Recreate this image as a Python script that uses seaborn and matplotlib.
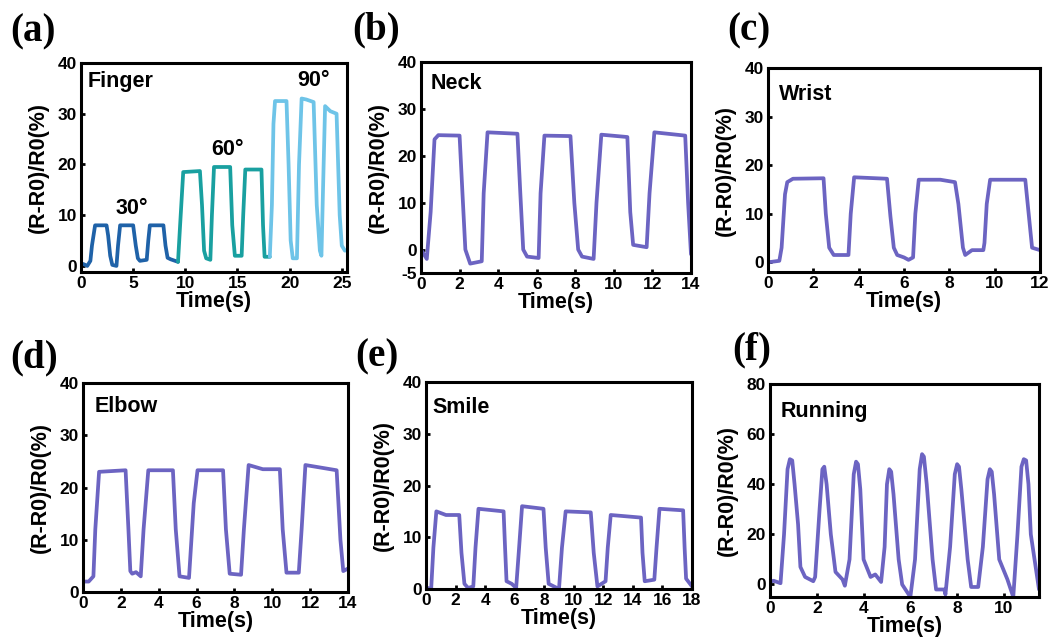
import numpy as np
import pandas as pd
import matplotlib
matplotlib.use('Agg')
import matplotlib.pyplot as plt
import seaborn as sns

sns.set_style('ticks')
plt.rcParams['font.family'] = ['Liberation Sans', 'DejaVu Sans']
plt.rcParams['font.weight'] = 'bold'
plt.rcParams['text.color'] = 'black'
plt.rcParams['axes.labelcolor'] = 'black'
plt.rcParams['xtick.color'] = 'black'
plt.rcParams['ytick.color'] = 'black'
plt.rcParams['axes.unicode_minus'] = False  # hifen simples no -5

roxo = '#6c64c2'

# (a) finger, tres angulos
t_30 = [0, 0.3, 0.6, 0.9, 1.05, 1.35, 2.45, 2.6, 2.8, 3.0, 3.4, 3.55, 3.75, 5.0, 5.25, 5.45, 5.65, 6.3, 6.45, 6.6, 7.9, 8.1, 8.3, 8.6, 9.3]
v_30 = [0.5, 0.3, 0.0, 1.0, 4.0, 8.0, 8.0, 6.0, 2.0, 0.2, 0.0, 4.0, 8.0, 8.0, 4.0, 1.5, 1.0, 1.2, 5.0, 8.0, 8.0, 4.0, 1.6, 1.3, 0.8]
t_60 = [9.3, 9.5, 9.8, 11.4, 11.6, 11.8, 12.0, 12.4, 12.55, 12.75, 14.3, 14.5, 14.75, 15.4, 15.55, 15.75, 17.3, 17.45, 17.6, 18.1]
v_60 = [0.8, 8.0, 18.5, 18.7, 12.0, 3.0, 1.5, 1.2, 10.0, 19.5, 19.5, 8.0, 2.0, 2.0, 10.0, 19.0, 19.0, 8.0, 1.8, 1.8]
t_90 = [18.1, 18.3, 18.45, 18.6, 19.7, 19.9, 20.1, 20.3, 20.7, 20.9, 21.15, 21.6, 22.3, 22.6, 22.9, 23.05, 23.2, 23.4, 23.9, 24.5, 24.8, 25.0, 25.3]
v_90 = [1.8, 12.0, 28.0, 32.5, 32.5, 20.0, 5.0, 1.5, 1.5, 20.0, 33.0, 32.8, 32.3, 12.0, 3.0, 2.0, 15.0, 31.5, 30.5, 30.0, 10.0, 4.0, 3.0]

# (b) neck
t_neck = [0, 0.3, 0.5, 0.7, 0.9, 2.0, 2.15, 2.3, 2.55, 3.15, 3.25, 3.45, 5.0, 5.15, 5.3, 5.5, 6.1, 6.2, 6.4, 7.75, 7.95, 8.15, 8.35, 8.95, 9.1, 9.35, 10.7, 10.85, 11.0, 11.7, 11.85, 12.1, 13.7, 13.85, 14.0]
v_neck = [0, -2, 8, 23.5, 24.4, 24.3, 12, 0, -3, -2.5, 12, 25, 24.7, 12, 0, -1.5, -1.8, 12, 24.3, 24.2, 10, 0, -1.5, -2, 10, 24.5, 24.0, 8, 1.0, 0.5, 12, 25, 24.3, 10, -1]

# (c) wrist
t_wrist = [0, 0.5, 0.6, 0.75, 0.85, 1.1, 2.45, 2.55, 2.7, 2.9, 3.55, 3.65, 3.8, 5.25, 5.4, 5.55, 5.7, 6.0, 6.2, 6.4, 6.5, 6.65, 7.6, 8.25, 8.4, 8.6, 8.7, 9.0, 9.5, 9.55, 9.65, 9.8, 11.35, 11.5, 11.65, 12.0]
v_wrist = [0, 0.3, 3, 14, 16.5, 17.2, 17.3, 10, 3, 1.5, 1.5, 10, 17.5, 17.2, 9.5, 3, 1.5, 1.0, 0.5, 1.0, 10, 17, 17, 16.5, 12, 3, 1.5, 2.5, 2.5, 4, 12, 17, 17, 10, 3, 2.5]

# (d) elbow
t_elbow = [0, 0.3, 0.55, 0.65, 0.85, 2.25, 2.4, 2.5, 2.6, 2.8, 3.05, 3.2, 3.45, 4.75, 4.9, 5.1, 5.6, 5.85, 6.05, 7.4, 7.55, 7.75, 8.35, 8.5, 8.75, 9.5, 10.4, 10.55, 10.75, 11.4, 11.55, 11.75, 13.4, 13.6, 13.75, 14.0]
v_elbow = [2, 2, 3, 12, 23, 23.3, 12, 4, 3.5, 3.8, 3, 12, 23.3, 23.3, 12, 3, 2.7, 17, 23.3, 23.3, 12, 3.5, 3.3, 12, 24.3, 23.5, 23.5, 12, 3.7, 3.7, 12, 24.3, 23.3, 10, 4, 4.5]

# (e) smile
t_smile = [0, 0.35, 0.5, 0.7, 1.35, 2.25, 2.4, 2.6, 2.85, 3.2, 3.35, 3.55, 5.25, 5.35, 5.45, 5.8, 6.1, 6.3, 6.5, 7.95, 8.1, 8.3, 9.0, 9.2, 9.45, 11.15, 11.35, 11.6, 12.15, 12.3, 12.5, 14.55, 14.65, 14.8, 15.45, 15.6, 15.8, 17.4, 17.5, 17.6, 18.0]
v_smile = [0.3, 0, 8, 15, 14.3, 14.3, 7, 1, 0.2, 0.5, 8, 15.5, 15, 8, 1.5, 1, 0.2, 8, 16, 15.5, 8, 1, 0, 8, 15, 14.8, 7, 0.5, 1.5, 8, 14.3, 13.8, 7, 1.5, 1.8, 8, 15.5, 15.2, 8, 2, 0.5]

# (f) running
t_run = [0, 0.15, 0.45, 0.6, 0.75, 0.85, 0.95, 1.05, 1.2, 1.3, 1.5, 1.85, 1.93, 2.12, 2.24, 2.32, 2.42, 2.6, 2.8, 3.1, 3.2,
         3.4, 3.58, 3.68, 3.76, 3.86, 4.0, 4.3, 4.5, 4.75, 4.9, 5.0, 5.1, 5.18, 5.28, 5.5, 5.65, 6.0, 6.2, 6.4, 6.5, 6.58, 6.7, 6.95, 7.1, 7.45, 7.5,
         7.7, 7.9, 8.0, 8.08, 8.18, 8.45, 8.6, 8.9, 9.1, 9.3, 9.4, 9.48, 9.58, 9.8, 10.15, 10.4, 10.58, 10.75, 10.85, 10.95, 11.05, 11.15, 11.5]
v_run = [1, 1.5, 0.5, 20, 46, 50, 49.5, 40, 24, 7, 3, 1.3, 3, 30, 46, 47, 40, 20, 5, 2, -0.5,
         10, 44, 49, 48, 38, 10, 3, 4, 1, 15, 40, 46, 45, 36, 10, 0, -5, 10, 46, 52, 51, 40, 10, -2, -2, -4,
         15, 44, 48, 47, 38, 10, -1, -1, 15, 42, 46, 45, 36, 10, 2, -5, 20, 47, 50, 49.5, 40, 20, -2]

finger = pd.concat([
    pd.DataFrame({'tempo': t_30, 'sinal': v_30, 'angulo': '30°'}),
    pd.DataFrame({'tempo': t_60, 'sinal': v_60, 'angulo': '60°'}),
    pd.DataFrame({'tempo': t_90, 'sinal': v_90, 'angulo': '90°'}),
])
cores = {'30°': '#1f62a8', '60°': '#19a0a0', '90°': '#6ec4e8'}

fig = plt.figure(figsize=(10.53, 6.44), dpi=100)

# posicoes dos eixos em pixels (esq, dir, topo, baixo)
caixas = {
    'a': (81, 347, 63, 272), 'b': (421, 691, 62, 273), 'c': (768, 1040, 68, 272),
    'd': (83, 348, 383, 592), 'e': (426, 692, 382, 589), 'f': (770, 1039, 384, 597),
}
W, H = 1053, 644
eixos = {}
for k, (l, r, t, b) in caixas.items():
    eixos[k] = fig.add_axes([l / W, 1 - b / H, (r - l) / W, (b - t) / H])

def estilo(ax, xlim, ylim, xt, yt):
    ax.set_xlim(xlim)
    ax.set_ylim(ylim)
    ax.set_xticks(xt)
    ax.set_yticks(yt)
    ax.tick_params(direction='in', length=3, width=2, labelsize=12.5, pad=3)
    for s in ax.spines.values():
        s.set_linewidth(2.2)
        s.set_color('black')
    ax.set_xlabel('Time(s)', fontsize=15.5, fontweight='bold', labelpad=0)
    ax.set_ylabel('(R-R0)/R0(%)', fontsize=15.5, fontweight='bold', labelpad=6)
    for lab in ax.get_xticklabels() + ax.get_yticklabels():
        lab.set_fontweight('bold')

ax = eixos['a']
sns.lineplot(data=finger, x='tempo', y='sinal', hue='angulo', palette=cores, lw=2.7, ax=ax,
             legend=False, sort=False, solid_joinstyle='round')
estilo(ax, (0, 25.5), (-1.2, 40), range(0, 26, 5), range(0, 41, 10))
ax.text(0.6, 36.3, 'Finger', fontsize=15.5, fontweight='bold', va='center')
ax.text(4.85, 11.3, '30°', fontsize=15.5, fontweight='bold', ha='center', va='center')
ax.text(14.0, 23.0, '60°', fontsize=15.5, fontweight='bold', ha='center', va='center')
ax.text(22.3, 36.6, '90°', fontsize=15.5, fontweight='bold', ha='center', va='center')

outros = [
    ('b', t_neck, v_neck, 'Neck', (0, 14), (-5, 40), range(0, 15, 2), [-5, 0, 10, 20, 30, 40], 0.5, 35.5),
    ('c', t_wrist, v_wrist, 'Wrist', (0, 12), (-2, 40), range(0, 13, 2), range(0, 41, 10), 0.5, 34.5),
    ('d', t_elbow, v_elbow, 'Elbow', (0, 14), (0, 40), range(0, 15, 2), range(0, 41, 10), 0.6, 35.5),
    ('e', t_smile, v_smile, 'Smile', (0, 18), (0, 40), range(0, 19, 2), range(0, 41, 10), 0.45, 35.0),
    ('f', t_run, v_run, 'Running', (0, 11.5), (-5, 80), range(0, 11, 2), range(0, 81, 20), 0.45, 69.0),
]
for k, tt, vv, nome, xl, yl, xt, yt, tx, ty in outros:
    ax = eixos[k]
    sns.lineplot(x=tt, y=vv, color=roxo, lw=2.7, ax=ax, sort=False, solid_joinstyle='round')
    estilo(ax, xl, yl, xt, yt)
    ax.text(tx, ty, nome, fontsize=15.5, fontweight='bold', va='center')

# letras dos paineis
letras = {'a': (10, 32), 'b': (352, 30), 'c': (727, 31), 'd': (10, 358), 'e': (355, 357), 'f': (732, 350)}
for k, (x, y) in letras.items():
    fig.text(x / W, 1 - y / H, f'({k})', fontsize=28, fontweight='bold',
             family=['Liberation Serif', 'DejaVu Serif'], va='center', ha='left')

fig.savefig('out.png', dpi=100)
